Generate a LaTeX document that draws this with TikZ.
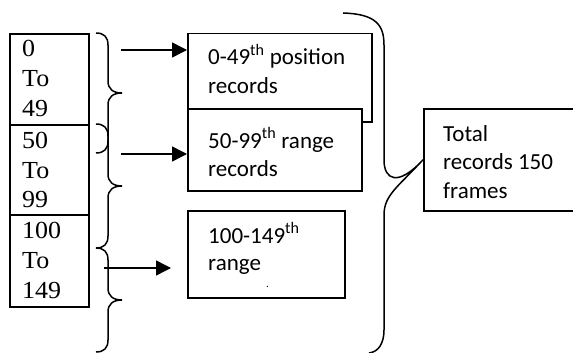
\documentclass[tikz,border=0pt]{standalone}
\usepackage{fontspec}
\setmainfont{Liberation Serif}
\newfontfamily\calib{Carlito}
\usetikzlibrary{arrows.meta}
\tikzset{
  lbox/.style={draw, line width=1.9pt},
  rbox/.style={draw, line width=1.5pt, fill=white},
  ltext/.style={anchor=base west, inner sep=0pt, font=\fontsize{24.5}{24.5}\selectfont},
  rtext/.style={anchor=base west, inner sep=0pt, font=\calib\fontsize{23}{23}\selectfont},
  brc/.style={draw, line width=1.5pt},
  arr/.style={line width=1.5pt, -{Triangle[length=15pt,width=15pt]}},
}
\newcommand{\thsup}{\textsuperscript{th}}
\newcommand{\wide}[1]{\scalebox{1.06}[1]{#1}}
\begin{document}
\begin{tikzpicture}[x=1pt,y=-1pt]
\useasboundingbox (0,0) rectangle (573,353);

% left range column
\node[lbox, minimum width=79pt, minimum height=91pt, anchor=north west, inner sep=0pt] (b1) at (9,33) {};
\node[lbox, minimum width=79pt, minimum height=90pt, anchor=north west, inner sep=0pt] (b2) at (9,124) {};
\node[lbox, minimum width=79pt, minimum height=92pt, anchor=north west, inner sep=0pt] (b3) at (9,214) {};
\node[ltext] (t1a) at (22,57) {\wide{0}};
\node[ltext] (t1b) at (22,86) {\wide{To}};
\node[ltext] (t1c) at (22,116) {\wide{49}};
\node[ltext] (t2a) at (22,148) {\wide{50}};
\node[ltext] (t2b) at (22,178) {\wide{To}};
\node[ltext] (t2c) at (22,207) {\wide{99}};
\node[ltext] (t3a) at (22,238) {\wide{100}};
\node[ltext] (t3b) at (22,268) {\wide{To}};
\node[ltext] (t3c) at (22,298) {\wide{149}};

% record boxes (later ones overlap earlier ones)
\node[rbox, minimum width=184pt, minimum height=88pt, anchor=north west, inner sep=0pt] (r1) at (187,33) {};
\node[rtext] (r1a) at (208,65) {0-49\thsup{} position};
\node[rtext] (r1b) at (208,93) {records};
\node[rbox, minimum width=174pt, minimum height=82pt, anchor=north west, inner sep=0pt] (r2) at (187,108) {};
\node[rtext] (r2a) at (208,148) {50-99\thsup{} range};
\node[rtext] (r2b) at (208,176) {records};
\node[rbox, minimum width=157pt, minimum height=87pt, anchor=north west, inner sep=0pt] (r3) at (187,210) {};
\node[rtext] (r3a) at (208,243) {100-149\thsup};
\node[rtext] (r3b) at (208,270) {range};
\node[rtext, font=\calib\fontsize{11}{11}\selectfont] (r3c) at (266,287) {.};

% total box
\node[rbox, minimum width=150pt, minimum height=102pt, anchor=north west, inner sep=0pt] (tot) at (423,108) {};
\node[rtext] (ta) at (443,141) {Total};
\node[rtext] (tb) at (443,169) {records 150};
\node[rtext] (tc) at (443,198) {frames};

% braces grouping the ranges
\path[brc] (96,33) .. controls (104,33) and (108,37) .. (108,45) -- (108,81)
  .. controls (108,89) and (113,93) .. (122,93)
  .. controls (113,93) and (108,97) .. (108,105) -- (108,141)
  .. controls (108,149) and (104,153) .. (96,153);
\path[brc] (96,124) .. controls (104,124) and (108,128) .. (108,136) -- (108,174)
  .. controls (108,182) and (113,186) .. (122,186)
  .. controls (113,186) and (108,190) .. (108,198) -- (108,236)
  .. controls (108,244) and (104,248) .. (96,248);
\path[brc] (96,248) .. controls (104,248) and (108,252) .. (108,260) -- (108,288)
  .. controls (108,296) and (113,300) .. (122,300)
  .. controls (113,300) and (108,304) .. (108,312) -- (108,340)
  .. controls (108,348) and (104,352) .. (96,352);

% large brace collecting all records
\coordinate (gtop) at (343,13);
\coordinate (gbot) at (369,353);
\path[brc] (gtop) .. controls (376,14) and (384,25) .. (384,45) -- (384,160)
  .. controls (384,180) and (398,187) .. (tot.west)
  .. controls (398,187) and (384,195) .. (384,215) -- (384,330)
  .. controls (384,344) and (378,352) .. (gbot);

% arrows from the braces to the record boxes
\coordinate (a1) at (121,50);
\coordinate (a2) at (121,154);
\coordinate (a3) at (104,268);
\draw[arr] (a1) -- (a1 -| r1.west);
\draw[arr] (a2) -- (a2 -| r2.west);
\draw[arr] (a3) -- (171,268);
\end{tikzpicture}
\end{document}
